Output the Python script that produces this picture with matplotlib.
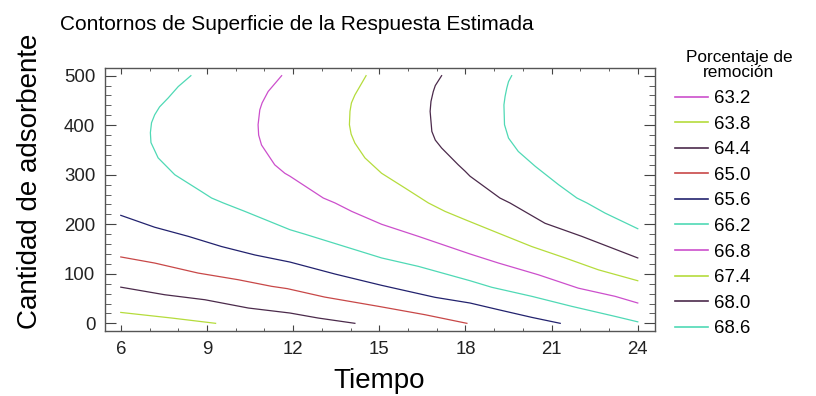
import matplotlib.pyplot as plt
from matplotlib.lines import Line2D
from matplotlib.ticker import MultipleLocator

plt.rcParams['font.family'] = ['Liberation Sans', 'DejaVu Sans']

# ────────────────────────────────────────────────────────────────
# DATA (contour lines)
# ────────────────────────────────────────────────────────────────
levels = ['63.2', '63.8', '64.4', '65.0', '65.6', '66.2', '66.8', '67.4', '68.0', '68.6']
level_colors = ['#CC4FCC', '#B5DC3C', '#4B2A4B', '#C84848', '#22226E',
                '#4FD9B5', '#CC4FCC', '#B5DC3C', '#4B2A4B', '#4FD9B5']

t_638 = [6.0, 7.77, 9.3]
c_638 = [22, 10.7, 0]

t_644 = [6.0, 7.53, 8.93, 10.44, 11.89, 12.87, 14.15]
c_644 = [73, 57.7, 47.6, 30.9, 20.8, 10.7, 0]

t_650 = [6.0, 7.18, 8.69, 10.09, 11.25, 11.8, 13.1, 14.97, 16.59, 18.05]
c_650 = [134, 121.7, 101.5, 88, 74.7, 70, 53, 34.3, 17.4, 0]

t_656 = [6.0, 7.18, 8.35, 9.51, 10.67, 11.89, 13.46, 15.08, 16.94, 18.16, 19.15, 20.31, 21.3]
c_656 = [218, 194, 175.6, 155, 138, 123.7, 99.5, 76.7, 52.5, 41, 27.5, 12, 0]

t_662 = [8.44, 8.0, 7.65, 7.35, 7.18, 7.07, 7.03, 7.05, 7.30, 7.88, 8.81, 9.16, 9.57, 10.32, 11.89,
         12.41, 13.8, 15.08, 16.36, 18.16, 18.92, 20.31, 21.7, 23.21, 24.0]
c_662 = [500, 478, 455, 437, 421, 405, 385, 365, 334, 300, 266, 253, 243, 226, 189,
         180, 155, 132, 115, 86, 72.7, 54.5, 34.3, 14, 3]

t_668 = [11.6, 11.13, 10.92, 10.84, 10.78, 10.8, 10.9, 11.36, 11.71, 11.89, 13.05, 13.46, 14.04,
         15.08, 16.36, 18.16, 19.15, 20.54, 21.93, 23.21, 24.0]
c_668 = [500, 468, 445, 431, 401, 380, 360, 320, 303, 297, 253, 243, 226,
         200, 175.6, 140, 121.7, 98, 71, 54.5, 41]

t_674 = [14.54, 14.15, 14.03, 13.98, 13.96, 14.02, 14.15, 14.5, 15.08, 15.9, 16.71, 17.29, 18.0,
         19.15, 20.31, 21.47, 22.63, 24.0]
c_674 = [500, 461, 445, 428, 401, 382, 364, 334, 303, 273, 243, 226, 209,
         182, 155, 132, 108, 86]

t_680 = [17.17, 16.95, 16.88, 16.8, 16.77, 16.83, 16.95, 17.17, 17.75, 17.99, 18.16, 19.2, 19.55,
         20.77, 22.05, 24.0]
c_680 = [500, 480, 468, 448, 428, 387.5, 370, 354, 320, 307, 297, 253, 243,
         202, 175.6, 132]

t_686 = [19.61, 19.5, 19.44, 19.38, 19.34, 19.36, 19.5, 19.84, 20.43, 21.24, 21.88, 22.23, 22.86, 24.0]
c_686 = [500, 488, 475, 458, 441, 401, 374, 347, 317, 280, 253, 243, 222.6, 191]

curves = {
    '63.8': (t_638, c_638),
    '64.4': (t_644, c_644),
    '65.0': (t_650, c_650),
    '65.6': (t_656, c_656),
    '66.2': (t_662, c_662),
    '66.8': (t_668, c_668),
    '67.4': (t_674, c_674),
    '68.0': (t_680, c_680),
    '68.6': (t_686, c_686),
}

# ────────────────────────────────────────────────────────────────
# FIGURE
# ────────────────────────────────────────────────────────────────
fig = plt.figure(figsize=(8.16, 3.96), dpi=100)
ax = fig.add_axes([105 / 816, 65 / 396, 550 / 816, 263 / 396])

for lev, col in zip(levels, level_colors):
    if lev in curves:
        t, c = curves[lev]
        ax.plot(t, c, color=col, linewidth=0.9)

ax.set_xlim(5.45, 24.6)
ax.set_ylim(-15.5, 515.5)
ax.set_xticks([6, 9, 12, 15, 18, 21, 24])
ax.set_yticks([0, 100, 200, 300, 400, 500])
ax.xaxis.set_minor_locator(MultipleLocator(1))
ax.yaxis.set_minor_locator(MultipleLocator(20))

ax.tick_params(which='both', direction='in', top=True, right=True,
               color='#444444', labelsize=13.4, labelcolor='#222222')
ax.tick_params(axis='y', which='major', length=8, pad=7)
ax.tick_params(axis='y', which='minor', length=4.2)
ax.tick_params(axis='x', which='major', length=4, pad=7)
ax.tick_params(axis='x', which='minor', length=2)
for sp in ax.spines.values():
    sp.set_color('#555555')
    sp.set_linewidth(1.0)

fig.text(60 / 816, 1 - 30 / 396, 'Contornos de Superficie de la Respuesta Estimada',
         fontsize=15, ha='left', va='baseline')
fig.text(30 / 816, 1 - 181 / 396, 'Cantidad de adsorbente', fontsize=20,
         rotation=90, ha='center', va='center')
fig.text(379 / 816, 8 / 396, 'Tiempo', fontsize=20, ha='center', va='baseline')

# legend title placed by hand (centred further right than the entries)
fig.text(739 / 816, 1 - 65 / 396, 'Porcentaje de\nremoción', fontsize=12.4,
         ha='center', va='center', multialignment='center', linespacing=1.08)

handles = [Line2D([], [], color=col, linewidth=1.2) for col in level_colors]
ax.legend(handles, levels, loc='upper left', bbox_to_anchor=(675 / 816, 1 - 90 / 396),
          bbox_transform=fig.transFigure, frameon=False,
          fontsize=13.4, handlelength=1.75, handletextpad=0.35,
          labelspacing=0.46, borderpad=0, borderaxespad=0)

fig.savefig('out.png', dpi=100)
